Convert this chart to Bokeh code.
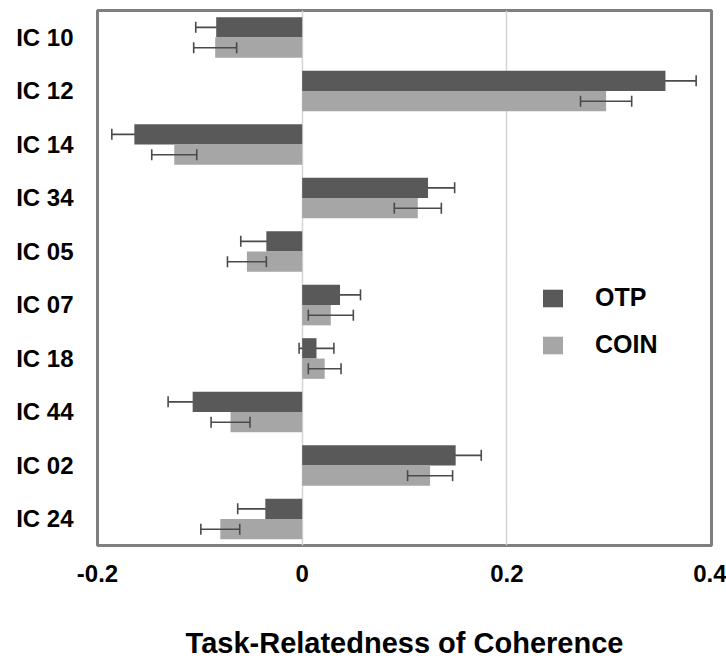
from bokeh.plotting import figure
from bokeh.models import (ColumnDataSource, FactorRange, Range1d, FixedTicker,
                          Whisker, TeeHead, Legend, LegendItem)
from bokeh.transform import dodge
from bokeh.embed import file_html
from bokeh.resources import INLINE

# Components, listed top to bottom
categories = ["IC 10", "IC 12", "IC 14", "IC 34", "IC 05",
              "IC 07", "IC 18", "IC 44", "IC 02", "IC 24"]
otp = [-0.084, 0.355, -0.164, 0.123, -0.035, 0.037, 0.014, -0.107, 0.150, -0.036]
otp_err = [0.020, 0.030, 0.022, 0.026, 0.025, 0.020, 0.017, 0.024, 0.025, 0.027]
coin = [-0.085, 0.297, -0.125, 0.113, -0.054, 0.028, 0.022, -0.070, 0.125, -0.080]
coin_err = [0.021, 0.025, 0.022, 0.023, 0.019, 0.022, 0.016, 0.019, 0.022, 0.019]

x_ticks = [-0.2, 0, 0.2, 0.4]
x_tick_labels = ["-0.2", "0", "0.2", "0.4"]

series_names = ["OTP", "COIN"]
otp_color = "#595959"
coin_color = "#a6a6a6"
font = "Liberation Sans"

src = ColumnDataSource(dict(
    cat=categories,
    otp=otp,
    otp_lo=[v - e for v, e in zip(otp, otp_err)],
    otp_hi=[v + e for v, e in zip(otp, otp_err)],
    coin=coin,
    coin_lo=[v - e for v, e in zip(coin, coin_err)],
    coin_hi=[v + e for v, e in zip(coin, coin_err)],
))

p = figure(
    width=726, height=663,
    y_range=FactorRange(factors=list(reversed(categories))),
    x_range=Range1d(-0.2, 0.4),
    output_backend="svg", toolbar_location=None,
    min_border_left=97, min_border_right=15,
    min_border_top=10, min_border_bottom=118,
)
p.background_fill_color = "white"
p.border_fill_color = "white"
p.outline_line_color = "#7f7f7f"
p.outline_line_width = 3

y_otp = dodge("cat", 0.185, range=p.y_range)
y_coin = dodge("cat", -0.195, range=p.y_range)

err_color = "#4a4a4a"

def error_bars(base, lo, hi, level):
    return Whisker(
        source=src, base=base, lower=lo, upper=hi, dimension="width",
        line_color=err_color, line_width=1.6, level=level,
        upper_head=TeeHead(size=11, line_color=err_color, line_width=1.6),
        lower_head=TeeHead(size=11, line_color=err_color, line_width=1.6),
    )

# OTP error bars sit beneath the dark bars; COIN error bars are drawn on top
p.add_layout(error_bars(y_otp, "otp_lo", "otp_hi", "underlay"))

r_otp = p.hbar(y=y_otp, right="otp", left=0, height=0.38, source=src,
               fill_color=otp_color, line_color=None)
r_coin = p.hbar(y=y_coin, right="coin", left=0, height=0.38, source=src,
                fill_color=coin_color, line_color=None)

p.add_layout(error_bars(y_coin, "coin_lo", "coin_hi", "annotation"))

# x axis
p.xaxis.ticker = FixedTicker(ticks=x_ticks)
p.xaxis.major_label_overrides = dict(zip(x_ticks, x_tick_labels))
p.xaxis.axis_line_color = None
p.xaxis.major_tick_line_color = None
p.xaxis.minor_tick_line_color = None
p.xaxis.major_tick_out = 0
p.xaxis.major_label_standoff = 19
p.xaxis.major_label_text_font = font
p.xaxis.major_label_text_font_style = "bold"
p.xaxis.major_label_text_font_size = "24px"
p.xaxis.major_label_text_color = "black"
p.xaxis.axis_label = "Task-Relatedness of Coherence"
p.xaxis.axis_label_text_font = font
p.xaxis.axis_label_text_font_style = "bold"
p.xaxis.axis_label_text_font_size = "29px"
p.xaxis.axis_label_text_color = "black"
p.xaxis.axis_label_standoff = 42

# y axis
p.yaxis.axis_line_color = None
p.yaxis.major_tick_line_color = None
p.yaxis.minor_tick_line_color = None
p.yaxis.major_tick_out = 0
p.yaxis.major_label_standoff = 24
p.yaxis.major_label_text_font = font
p.yaxis.major_label_text_font_style = "bold"
p.yaxis.major_label_text_font_size = "24px"
p.yaxis.major_label_text_color = "black"

# grid
p.ygrid.grid_line_color = None
p.xgrid.ticker = FixedTicker(ticks=x_ticks)
p.xgrid.grid_line_color = "#d4d4d4"
p.xgrid.grid_line_width = 1.5

legend = Legend(
    items=[LegendItem(label=series_names[0], renderers=[r_otp]),
           LegendItem(label=series_names[1], renderers=[r_coin])],
    location=(443, 186),
    border_line_color=None, background_fill_alpha=0,
    padding=0, margin=0, spacing=18,
    glyph_width=25, glyph_height=22, label_height=22,
    label_standoff=30,
    label_text_font=font, label_text_font_style="bold",
    label_text_font_size="25px", label_text_color="black",
)
p.add_layout(legend)

open("out.html", "w").write(file_html(p, INLINE))
